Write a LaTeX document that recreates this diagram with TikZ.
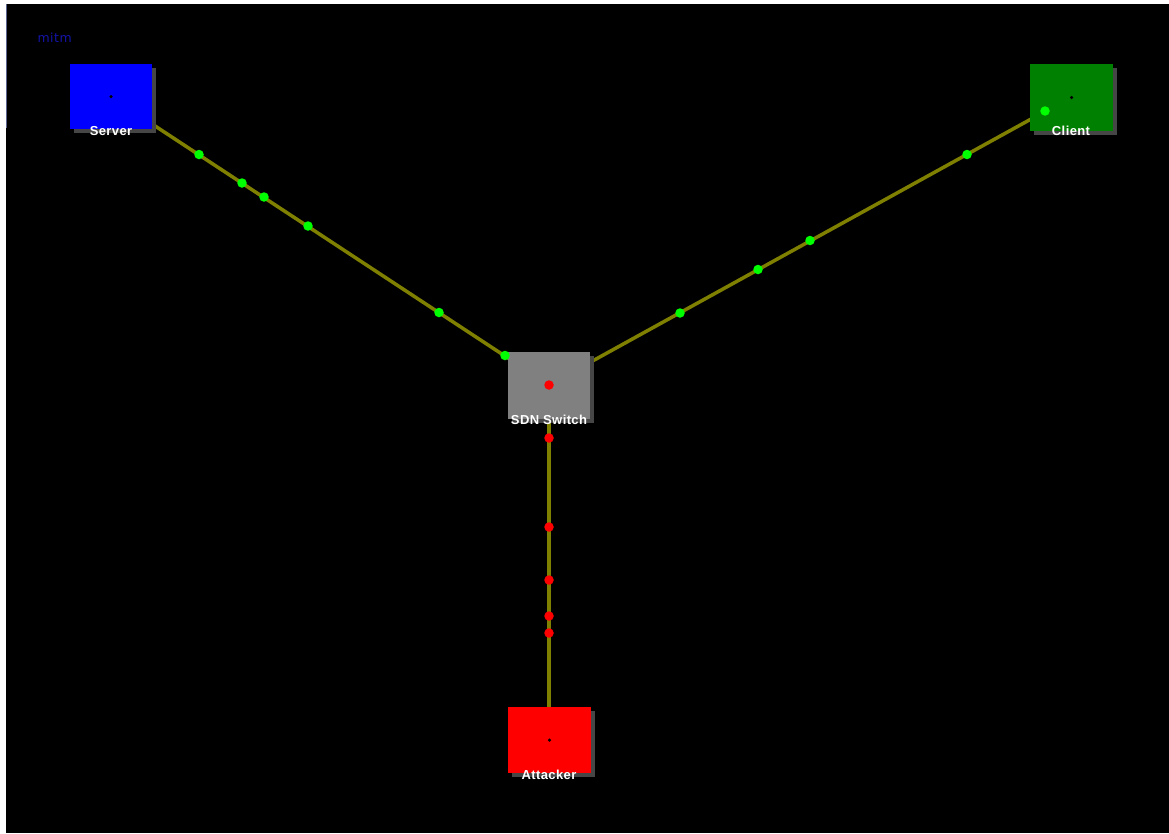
\documentclass[tikz,border=0pt]{standalone}
\usepackage{fontspec}
\setmainfont{DejaVu Sans}
\newfontfamily\labelfont{Liberation Sans}
\definecolor{titleblue}{RGB}{20,20,170}
\definecolor{edgeblue}{RGB}{90,100,140}
\definecolor{linkolive}{RGB}{128,128,0}
\definecolor{pktgreen}{RGB}{0,255,0}
\definecolor{pktred}{RGB}{255,0,0}
\definecolor{srvblue}{RGB}{0,0,255}
\definecolor{cligreen}{RGB}{0,128,0}
\definecolor{swgray}{RGB}{128,128,128}
\definecolor{attred}{RGB}{255,0,0}
\definecolor{shadowgray}{RGB}{70,70,70}
\begin{document}
\begin{tikzpicture}[x=1pt,y=-1pt,
  host/.style={inner sep=0pt,draw=none},
  shade/.style={fill=shadowgray},
  hostlabel/.style={text=white,font=\labelfont\bfseries\fontsize{13}{14}\selectfont\addfontfeature{LetterSpace=3},inner sep=0pt,anchor=center},
  link/.style={draw=linkolive,line width=3.5pt},
  pkt/.style={circle,inner sep=0pt,minimum size=9.5pt},
  okpkt/.style={pkt,fill=pktgreen},
  badpkt/.style={pkt,fill=pktred},
  hub/.style={circle,fill=black,inner sep=0pt,minimum size=3.5pt}
]
% canvas
\useasboundingbox (0,0) rectangle (1169,833);
\fill[white] (0,0) rectangle (1169,833);
\fill[black] (6,4) rectangle (1169,833);
\draw[edgeblue,line width=1pt] (6.5,4) -- (6.5,128);

\node[anchor=west,text=titleblue,font=\fontsize{12.5}{13}\selectfont\addfontfeature{LetterSpace=4}] (title) at (34,38) {mitm};

% links (centre to centre, drawn under the boxes)
\coordinate (srvc) at (111,97);
\coordinate (clic) at (1071,97);
\coordinate (swc) at (549,385);
\coordinate (attc) at (549,740);
\draw[link] (srvc) -- (swc);
\draw[link] (clic) -- (swc);
\draw[link] (attc) -- (swc);

% drop shadows
\fill[shade] (74,68) rectangle (156,133);
\fill[shade] (1034,68) rectangle (1117,135);
\fill[shade] (512,356) rectangle (594,423);
\fill[shade] (512,711) rectangle (595,777);

% hosts
\node[host,fill=srvblue,minimum width=82pt,minimum height=65pt] (server) at (111,96.5) {};
\node[host,fill=cligreen,minimum width=83pt,minimum height=67pt] (client) at (1071.5,97.5) {};
\node[host,fill=swgray,minimum width=82pt,minimum height=67pt] (switch) at (549,385.5) {};
\node[host,fill=attred,minimum width=83pt,minimum height=66pt] (attacker) at (549.5,740) {};

\node[hub] (serverhub) at (server.center) {};
\node[hub] (clienthub) at (client.center) {};
\node[hub] (attackerhub) at (attacker.center) {};

\node[hostlabel] (serverlbl) at (111,131) {Server};
\node[hostlabel] (clientlbl) at (1071,131) {Client};
\node[hostlabel] (switchlbl) at (549,419.5) {SDN Switch};
\node[hostlabel] (attackerlbl) at (549,775) {Attacker};

% packets in flight
\node[okpkt] (s1) at (199,154.5) {};
\node[okpkt] (s2) at (242,183) {};
\node[okpkt] (s3) at (264,197) {};
\node[okpkt] (s4) at (308,226) {};
\node[okpkt] (s5) at (439,312.5) {};
\node[okpkt] (s6) at (505,355.5) {};

\node[okpkt] (c0) at (1045,111) {};
\node[okpkt] (c1) at (967,154.5) {};
\node[okpkt] (c2) at (810,240.5) {};
\node[okpkt] (c3) at (758,269.5) {};
\node[okpkt] (c4) at (680,313) {};

\node[badpkt] (a0) at (549,385) {};
\node[badpkt] (a1) at (549,438) {};
\node[badpkt] (a2) at (549,527) {};
\node[badpkt] (a3) at (549,580) {};
\node[badpkt] (a4) at (549,616) {};
\node[badpkt] (a5) at (549,633) {};
\end{tikzpicture}
\end{document}
